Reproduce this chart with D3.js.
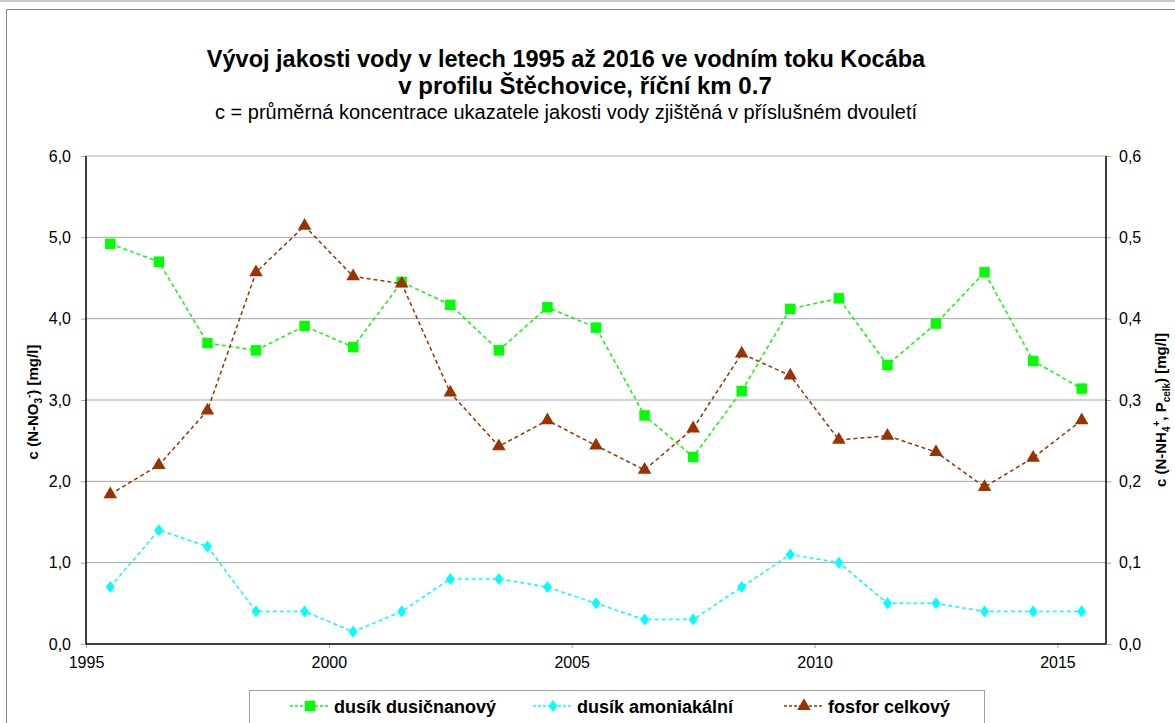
<!DOCTYPE html>
<html>
<head>
<meta charset="utf-8">
<script src="https://cdn.jsdelivr.net/npm/d3@7"></script>
<style>
  body { margin: 0; background: #fff; }
  svg { display: block; font-family: "Liberation Sans", Arial, sans-serif; }
</style>
</head>
<body>
<div id="chart-area"></div>
<script>
const years = [1995.5, 1996.5, 1997.5, 1998.5, 1999.5, 2000.5, 2001.5, 2002.5, 2003.5, 2004.5, 2005.5,
    2006.5, 2007.5, 2008.5, 2009.5, 2010.5, 2011.5, 2012.5, 2013.5, 2014.5, 2015.5];
const nitrate = [4.92, 4.70, 3.70, 3.61, 3.91, 3.65, 4.45, 4.17, 3.61, 4.14, 3.89,
    2.81, 2.30, 3.11, 4.12, 4.25, 3.43, 3.94, 4.57, 3.48, 3.14];
const ammonia = [0.070, 0.140, 0.120, 0.040, 0.040, 0.015, 0.040, 0.080, 0.080, 0.070, 0.050,
    0.030, 0.030, 0.070, 0.110, 0.100, 0.050, 0.050, 0.040, 0.040, 0.040];
const phosphorus = [0.184, 0.220, 0.287, 0.457, 0.514, 0.452, 0.443, 0.309, 0.243, 0.275, 0.244,
    0.214, 0.265, 0.357, 0.330, 0.251, 0.256, 0.236, 0.193, 0.229, 0.275];
const xTicks = [1995, 2000, 2005, 2010, 2015];
const leftTicks = [0, 1, 2, 3, 4, 5, 6];
const rightTicks = [0, 0.1, 0.2, 0.3, 0.4, 0.5, 0.6];

const width = 1175, height = 723;
const plot = {left: 86, right: 1106, top: 156, bottom: 644};

const svg = d3.select("#chart-area").append("svg")
    .attr("width", width)
    .attr("height", height);

// frame
svg.append("rect").attr("x", 0).attr("y", 0).attr("width", width).attr("height", 2).attr("fill", "#c8c8c8");
svg.append("rect")
    .attr("x", 6.5).attr("y", 9.5)
    .attr("width", width + 20).attr("height", height + 20)
    .attr("fill", "none").attr("stroke", "#888").attr("stroke-width", 1);

const x = d3.scaleLinear().domain([1995, 2016]).range([plot.left, plot.right]);
const yL = d3.scaleLinear().domain([0, 6]).range([plot.bottom, plot.top]);
const yR = d3.scaleLinear().domain([0, 0.6]).range([plot.bottom, plot.top]);

const fmt = d3.format(".1f");
const comma = v => fmt(v).replace(".", ",");

// gridlines
svg.append("g")
    .selectAll("line")
    .data(leftTicks.slice(1, -1))
    .enter().append("line")
    .attr("x1", plot.left).attr("x2", plot.right)
    .attr("y1", d => yL(d)).attr("y2", d => yL(d))
    .attr("stroke", "#a6a6a6").attr("stroke-width", 1);

// axes
const leftAxis = svg.append("g")
    .attr("transform", `translate(${plot.left},0)`)
    .call(d3.axisLeft(yL).tickValues(leftTicks).tickFormat(comma).tickSize(5).tickPadding(10));
const rightAxis = svg.append("g")
    .attr("transform", `translate(${plot.right},0)`)
    .call(d3.axisRight(yR).tickValues(rightTicks).tickFormat(comma).tickSize(5).tickPadding(8));
const bottomAxis = svg.append("g")
    .attr("transform", `translate(0,${plot.bottom})`)
    .call(d3.axisBottom(x).tickValues(xTicks).tickFormat(d3.format("d")).tickSize(4).tickPadding(9));

[leftAxis, rightAxis, bottomAxis].forEach(g => {
    g.selectAll(".tick line").attr("stroke", "#a6a6a6");
    g.selectAll(".tick text").attr("font-size", 16).attr("fill", "#000")
        .attr("font-family", "'Liberation Sans', Arial, sans-serif");
    g.select(".domain").remove();
});

// axis frame lines
svg.append("line").attr("x1", plot.left).attr("x2", plot.left).attr("y1", plot.top).attr("y2", plot.bottom)
    .attr("stroke", "#000").attr("stroke-width", 1.5);
svg.append("line").attr("x1", plot.right).attr("x2", plot.right).attr("y1", plot.top).attr("y2", plot.bottom)
    .attr("stroke", "#000").attr("stroke-width", 1.5);
svg.append("line").attr("x1", plot.left).attr("x2", plot.right).attr("y1", plot.bottom).attr("y2", plot.bottom)
    .attr("stroke", "#000").attr("stroke-width", 1.5);
svg.append("line").attr("x1", plot.left).attr("x2", plot.right).attr("y1", plot.top).attr("y2", plot.top)
    .attr("stroke", "#a6a6a6").attr("stroke-width", 1);

// titles
const title = svg.append("g").attr("text-anchor", "middle");
title.append("text").attr("x", 566).attr("y", 67)
    .attr("font-size", 23.5).attr("font-weight", "bold")
    .text("Vývoj jakosti vody v letech 1995 až 2016 ve vodním toku Kocába");
title.append("text").attr("x", 585).attr("y", 94)
    .attr("font-size", 24).attr("font-weight", "bold")
    .text("v profilu Štěchovice, říční km 0.7");
title.append("text").attr("x", 566).attr("y", 119)
    .attr("font-size", 20)
    .text("c = průměrná koncentrace ukazatele jakosti vody zjištěná v příslušném dvouletí");

// axis titles
const lt = svg.append("text")
    .attr("transform", "translate(38,402) rotate(-90)")
    .attr("text-anchor", "middle")
    .attr("font-size", 15).attr("font-weight", "bold");
lt.append("tspan").text("c (N-NO");
lt.append("tspan").attr("font-size", 10).attr("dy", 4).text("3");
lt.append("tspan").attr("font-size", 10).attr("dy", -10).text("-");
lt.append("tspan").attr("dy", 6).text(") [mg/l]");

const rt = svg.append("text")
    .attr("transform", "translate(1166,410) rotate(-90)")
    .attr("text-anchor", "middle")
    .attr("font-size", 15).attr("font-weight", "bold");
rt.append("tspan").text("c (N-NH");
rt.append("tspan").attr("font-size", 10).attr("dy", 4).text("4");
rt.append("tspan").attr("font-size", 10).attr("dy", -10).text("+");
rt.append("tspan").attr("dy", 6).text(", P");
rt.append("tspan").attr("font-size", 10).attr("dy", 4).text("celk");
rt.append("tspan").attr("dy", -4).text(") [mg/l]");

// series
const series = [
    {name: "dusík dusičnanový", values: nitrate, y: yL, color: "#00ff00", shape: d3.symbolSquare, size: 110},
    {name: "dusík amoniakální", values: ammonia, y: yR, color: "#00ffff", shape: "diamond", size: 0},
    {name: "fosfor celkový", values: phosphorus, y: yR, color: "#993300", shape: d3.symbolTriangle, size: 80}
];

function marker(g, s) {
    if (s.shape === "diamond") {
        g.append("path").attr("d", "M0,-6L4.5,0L0,6L-4.5,0Z").attr("fill", s.color);
    } else {
        g.append("path").attr("d", d3.symbol().type(s.shape).size(s.size)()).attr("fill", s.color);
    }
}

series.forEach(s => {
    const line = d3.line()
        .x((d, i) => x(years[i]))
        .y(d => s.y(d));
    svg.append("path")
        .attr("d", line(s.values))
        .attr("fill", "none")
        .attr("stroke", s.color)
        .attr("stroke-width", 1.5)
        .attr("stroke-dasharray", "4,3");
    svg.append("g")
        .selectAll("g")
        .data(s.values)
        .enter().append("g")
        .attr("transform", (d, i) => `translate(${x(years[i])},${s.y(d)})`)
        .each(function() { marker(d3.select(this), s); });
});

// legend
svg.append("rect")
    .attr("x", 249.5).attr("y", 690.5).attr("width", 735).attr("height", 60)
    .attr("fill", "#fff").attr("stroke", "#a0a0a0");
const legendPos = [310, 553, 804];
series.forEach((s, i) => {
    const g = svg.append("g").attr("transform", `translate(${legendPos[i]},706)`);
    g.append("line").attr("x1", -20).attr("x2", 20)
        .attr("stroke", s.color).attr("stroke-width", 1.5).attr("stroke-dasharray", "3,2");
    marker(g, s);
    g.append("text").attr("x", 24).attr("y", 6.5)
        .attr("font-size", 18).attr("font-weight", "bold")
        .text(s.name);
});
</script>
</body>
</html>
